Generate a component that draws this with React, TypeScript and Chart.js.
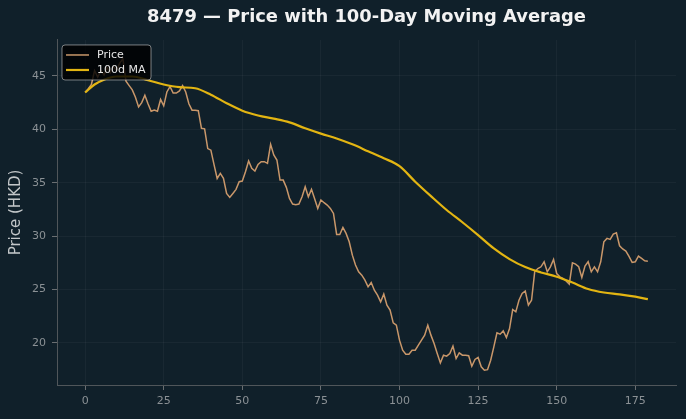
import React, { useEffect, useRef } from "react";
import { Chart, registerables } from "chart.js";

Chart.register(...registerables);

const TITLE = "8479 — Price with 100-Day Moving Average";
const Y_LABEL = "Price (HKD)";
const PRICE_LABEL = "Price";
const MA_LABEL = "100d MA";

const priceValues: number[] = [
  43.47, 43.8, 44.2, 45.5, 44.9, 45.5, 45.1, 45.8, 45.3, 45.9,
  45.5, 46.2, 46.6, 44.5, 44.1, 43.7, 43.0, 42.1, 42.5, 43.2,
  42.4, 41.7, 41.8, 41.7, 42.8, 42.2, 43.5, 44.0, 43.4, 43.4,
  43.6, 44.1, 43.5, 42.4, 41.8, 41.8, 41.75, 40.1, 40.05, 38.2,
  38.05, 36.7, 35.4, 35.88, 35.41, 34.0, 33.63, 34.0, 34.38, 35.1,
  35.16, 36.03, 37.03, 36.35, 36.1, 36.72, 36.97, 36.97, 36.81, 38.6,
  37.6, 37.13, 35.25, 35.25, 34.57, 33.53, 33.0, 32.95, 33.0, 33.69,
  34.63, 33.69, 34.38, 33.5, 32.6, 33.38, 33.13, 32.91, 32.6, 32.13,
  30.16, 30.16, 30.82, 30.26, 29.47, 28.22, 27.29, 26.66, 26.35, 25.88,
  25.25, 25.66, 24.94, 24.47, 23.85, 24.57, 23.54, 23.07, 21.88, 21.66,
  20.26, 19.32, 18.95, 18.95, 19.32, 19.32, 19.79, 20.26, 20.73, 21.66,
  20.73, 19.95, 19.01, 18.13, 18.85, 18.76, 19.01, 19.7, 18.54, 19.07,
  18.85, 18.85, 18.8, 17.82, 18.45, 18.64, 17.76, 17.45, 17.5, 18.38,
  19.63, 20.94, 20.82, 21.13, 20.51, 21.35, 23.13, 22.91, 24.0, 24.63,
  24.85, 23.54, 24.0, 26.66, 26.97, 27.13, 27.6, 26.66, 27.13, 27.82,
  26.5, 26.19, 26.04, 25.8, 25.51, 27.5, 27.38, 27.13, 26.13, 27.19,
  27.6, 26.66, 27.13, 26.66, 27.6, 29.47, 29.79, 29.69, 30.19, 30.31,
  29.1, 28.8, 28.6, 28.1, 27.54, 27.6, 28.13, 27.91, 27.69, 27.66,
];

const maDays: number[] = [
  0, 3, 6, 10, 15, 20, 25, 30, 35, 40, 45, 50, 55, 60, 65, 70, 75, 80, 85,
  90, 95, 100, 105, 110, 115, 120, 125, 130, 135, 140, 145, 150, 155, 160,
  165, 170, 175, 179,
];
const maValues: number[] = [
  43.45, 44.2, 44.65, 44.95, 44.95, 44.6, 44.2, 43.95, 43.85, 43.25, 42.45,
  41.75, 41.3, 41.0, 40.65, 40.1, 39.6, 39.15, 38.6, 37.95, 37.3, 36.55,
  35.1, 33.75, 32.45, 31.3, 30.1, 28.85, 27.85, 27.1, 26.6, 26.2, 25.65,
  25.05, 24.72, 24.55, 24.33, 24.1,
];

const xTicks: number[] = [0, 25, 50, 75, 100, 125, 150, 175];
const yTicks: number[] = [20, 25, 30, 35, 40, 45];

const X_MIN = -8.95;
const X_MAX = 187.95;
const Y_MIN = 16.06;
const Y_MAX = 48.37;

const BG = "#10202a";
const PRICE_COLOR = "#c9976a";
const MA_COLOR = "#e3b512";
const FONT = "'DejaVu Sans', sans-serif";

const bgPlugin = {
  id: "bgFill",
  beforeDraw(chart: any) {
    const { ctx, width, height } = chart;
    ctx.save();
    ctx.fillStyle = BG;
    ctx.fillRect(0, 0, width, height);
    ctx.restore();
  },
};

const legendPlugin = {
  id: "insetLegend",
  afterDatasetsDraw(chart: any) {
    const { ctx, chartArea } = chart;
    const x = chartArea.left + 5;
    const y = chartArea.top + 5;
    const w = 89;
    const h = 35;
    ctx.save();
    ctx.beginPath();
    const r = 3;
    ctx.moveTo(x + r, y);
    ctx.lineTo(x + w - r, y);
    ctx.quadraticCurveTo(x + w, y, x + w, y + r);
    ctx.lineTo(x + w, y + h - r);
    ctx.quadraticCurveTo(x + w, y + h, x + w - r, y + h);
    ctx.lineTo(x + r, y + h);
    ctx.quadraticCurveTo(x, y + h, x, y + h - r);
    ctx.lineTo(x, y + r);
    ctx.quadraticCurveTo(x, y, x + r, y);
    ctx.closePath();
    ctx.fillStyle = "rgba(0,0,0,0.82)";
    ctx.fill();
    ctx.strokeStyle = "rgba(200,200,200,0.6)";
    ctx.lineWidth = 1;
    ctx.stroke();
    const items = chart.data.datasets.map((d: any) => ({
      label: d.label,
      color: d.borderColor,
      width: d.borderWidth,
    }));
    items.forEach((it: any, i: number) => {
      const cy = y + 10 + i * 15;
      ctx.beginPath();
      ctx.moveTo(x + 4, cy);
      ctx.lineTo(x + 27, cy);
      ctx.strokeStyle = it.color;
      ctx.lineWidth = it.width;
      ctx.stroke();
      ctx.fillStyle = "#e6e6e6";
      ctx.font = `11px ${FONT}`;
      ctx.textBaseline = "middle";
      ctx.textAlign = "left";
      ctx.fillText(it.label, x + 35, cy + 0.5);
    });
    ctx.restore();
  },
};

export default function App() {
  const canvasRef = useRef<HTMLCanvasElement | null>(null);

  useEffect(() => {
    document.body.style.margin = "0";
    document.body.style.background = BG;
    const canvas = canvasRef.current;
    if (!canvas) return;
    const chart = new Chart(canvas, {
      type: "line",
      data: {
        datasets: [
          {
            label: PRICE_LABEL,
            data: priceValues.map((v, i) => ({ x: i, y: v })),
            borderColor: PRICE_COLOR,
            borderWidth: 1.5,
            pointRadius: 0,
            tension: 0,
            order: 2,
          },
          {
            label: MA_LABEL,
            data: maValues.map((v, i) => ({ x: maDays[i], y: v })),
            borderColor: MA_COLOR,
            borderWidth: 2.2,
            pointRadius: 0,
            cubicInterpolationMode: "monotone",
            order: 1,
          },
        ],
      },
      options: {
        animation: false,
        responsive: false,
        devicePixelRatio: 1,
        layout: { padding: { left: 0, right: 10, top: 0, bottom: 0 } },
        plugins: {
          legend: { display: false },
          tooltip: { enabled: false },
          title: {
            display: true,
            text: TITLE,
            color: "#f2f2f2",
            fullSize: false,
            font: { family: FONT, size: 17.9, weight: "bold" },
            padding: { top: 7, bottom: 11.5 },
          },
        },
        scales: {
          x: {
            type: "linear",
            min: X_MIN,
            max: X_MAX,
            afterBuildTicks: (scale: any) => {
              scale.ticks = xTicks.map((v) => ({ value: v }));
            },
            afterFit: (scale: any) => {
              scale.height = 34;
            },
            ticks: {
              color: "#8b9195",
              font: { family: FONT, size: 11 },
              padding: 5,
              maxRotation: 0,
              autoSkip: false,
            },
            grid: {
              color: "rgba(255,255,255,0.04)",
              tickColor: "#6a6f72",
              tickLength: 5,
            },
            border: { display: true, color: "#50565a", width: 1 },
          },
          y: {
            type: "linear",
            min: Y_MIN,
            max: Y_MAX,
            afterBuildTicks: (scale: any) => {
              scale.ticks = yTicks.map((v) => ({ value: v }));
            },
            afterFit: (scale: any) => {
              scale.width = 57;
            },
            ticks: {
              color: "#8b9195",
              font: { family: FONT, size: 11 },
              padding: 6,
            },
            grid: {
              color: "rgba(255,255,255,0.04)",
              tickColor: "#6a6f72",
              tickLength: 5,
            },
            border: { display: true, color: "#50565a", width: 1 },
            title: {
              display: true,
              text: Y_LABEL,
              color: "#c3c7c9",
              font: { family: FONT, size: 15 },
              padding: { top: 7, bottom: 0 },
            },
          },
        },
      },
      plugins: [bgPlugin, legendPlugin],
    } as any);
    return () => chart.destroy();
  }, []);

  return (
    <div style={{ width: 686, height: 419, background: BG }}>
      <canvas ref={canvasRef} width={686} height={419} style={{ display: "block" }} />
    </div>
  );
}
